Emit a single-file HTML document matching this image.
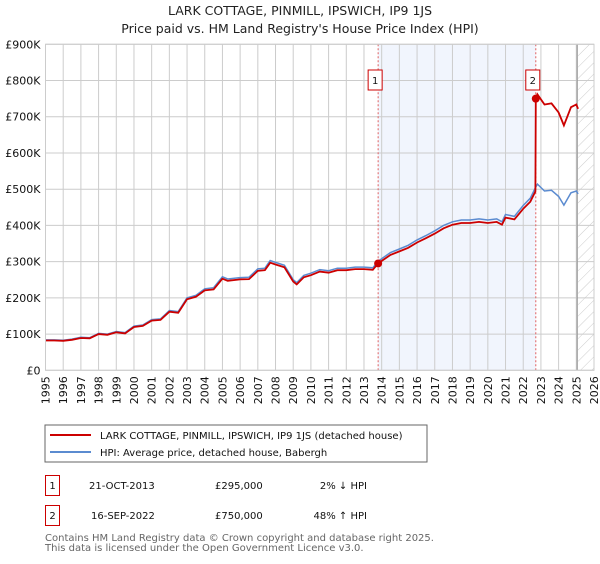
<!DOCTYPE html>
<html><head><meta charset="utf-8"><style>
body{margin:0;background:#fff;font-family:"DejaVu Sans","Liberation Sans",sans-serif;}
svg text{font-family:"DejaVu Sans","Liberation Sans",sans-serif;}
</style></head><body>
<svg id="c" width="600" height="560" viewBox="0 0 600 560" xmlns="http://www.w3.org/2000/svg">
<defs><pattern id="hatch" width="8" height="8" patternUnits="userSpaceOnUse" patternTransform="rotate(45)"><line x1="0" y1="0" x2="0" y2="8" stroke="#ccc" stroke-width="1"/></pattern></defs>
<text x="300" y="15" text-anchor="middle" font-size="12.5" fill="#222">LARK COTTAGE, PINMILL, IPSWICH, IP9 1JS</text>
<text x="300" y="33" text-anchor="middle" font-size="12.5" fill="#222">Price paid vs. HM Land Registry's House Price Index (HPI)</text>
<g id="plot"></g>
<rect x="45" y="425" width="382" height="37" fill="none" stroke="#666"/>
<line x1="50" y1="435" x2="91" y2="435" stroke="#cc0000" stroke-width="2"/>
<text x="100" y="439" font-size="10" fill="#111">LARK COTTAGE, PINMILL, IPSWICH, IP9 1JS (detached house)</text>
<line x1="50" y1="452" x2="91" y2="452" stroke="#5b8bd0" stroke-width="2"/>
<text x="100" y="456" font-size="10" fill="#111">HPI: Average price, detached house, Babergh</text>
<g font-size="10" fill="#111">
<rect x="45.5" y="475.5" width="14" height="20" fill="none" stroke="#cc0000"/>
<text x="52.5" y="489" text-anchor="middle">1</text>
<text x="89" y="489">21-OCT-2013</text>
<text x="215" y="489">£295,000</text>
<text x="367" y="489" text-anchor="end">2% ↓ HPI</text>
<rect x="45.5" y="505.5" width="14" height="20" fill="none" stroke="#cc0000"/>
<text x="52.5" y="519" text-anchor="middle">2</text>
<text x="91" y="519">16-SEP-2022</text>
<text x="215" y="519">£750,000</text>
<text x="367" y="519" text-anchor="end">48% ↑ HPI</text>
</g>
<text x="45" y="541" font-size="10" fill="#666">Contains HM Land Registry data © Crown copyright and database right 2025.</text>
<text x="45" y="551" font-size="10" fill="#666">This data is licensed under the Open Government Licence v3.0.</text>
</svg>
<script>
const hpiDates=[1995,1995.5,1996,1996.5,1997,1997.5,1998,1998.5,1999,1999.5,2000,2000.5,2001,2001.5,2002,2002.5,2003,2003.5,2004,2004.5,2005,2005.3,2006,2006.5,2007,2007.4,2007.7,2008,2008.5,2009,2009.2,2009.6,2010,2010.5,2011,2011.5,2012,2012.5,2013,2013.5,2013.8,2014.2,2014.5,2015,2015.5,2016,2016.5,2017,2017.5,2018,2018.5,2019,2019.5,2020,2020.5,2020.8,2021,2021.5,2022,2022.4,2022.7,2022.8,2023.2,2023.6,2024,2024.3,2024.7,2025,2025.1];
const hpiValues=[84,84,83,86,91,90,102,100,107,104,122,125,140,142,165,162,200,207,225,228,258,252,256,257,280,282,303,298,290,250,242,262,268,278,275,282,282,285,285,283,301,315,325,335,345,360,372,385,400,410,415,415,418,415,418,410,430,425,455,475,505,514,495,497,480,456,490,495,487];
const saleDates=[2013.8,2022.71];
const salePrices=[295,750];
const yTicks=[0,100,200,300,400,500,600,700,800,900];
const xTicks=[1995,1996,1997,1998,1999,2000,2001,2002,2003,2004,2005,2006,2007,2008,2009,2010,2011,2012,2013,2014,2015,2016,2017,2018,2019,2020,2021,2022,2023,2024,2025,2026];
const X0=45.5,X1=594,Y0=370.3,Y1=44.3;
const sx=d=>X0+(d-1995)/(2026-1995)*(X1-X0);
const sy=v=>Y0-v/900*(Y0-Y1);
const NS='http://www.w3.org/2000/svg';
const g=document.getElementById('plot');
function mk(t,a){const e=document.createElementNS(NS,t);for(const k in a)e.setAttribute(k,a[k]);g.appendChild(e);return e;}
function hpiAt(d){for(let i=1;i<hpiDates.length;i++){if(d<=hpiDates[i]){const t=(d-hpiDates[i-1])/(hpiDates[i]-hpiDates[i-1]);return hpiValues[i-1]+t*(hpiValues[i]-hpiValues[i-1]);}}return hpiValues[hpiValues.length-1];}
let r=mk('rect',{x:sx(saleDates[0]),y:Y1,width:sx(saleDates[1])-sx(saleDates[0]),height:Y0-Y1,fill:'#eef3fc',opacity:0.8});


r=mk('rect',{x:sx(2025.1),y:Y1,width:X1-sx(2025.1),height:Y0-Y1,fill:'url(#hatch)'});


yTicks.forEach(v=>{
 const l=mk('line',{x1:X0,x2:X1,y1:sy(v*1),y2:sy(v*1),stroke:'#ccc'});
 
 
 const t=mk('text',{x:X0-5,y:sy(v)+4,'text-anchor':'end','font-size':'11',fill:'#111'});
 t.textContent=v===0?'£0':'£'+v+'K';
 
 
});
xTicks.forEach(d=>{
 const l=mk('line',{x1:sx(d),x2:sx(d),y1:Y1,y2:Y0,stroke:'#ccc'});
 
 
 const t=mk('text',{x:0,y:0,'text-anchor':'end','font-size':'11',fill:'#111',transform:`translate(${sx(d)+4},${Y0+6}) rotate(-90)`});
 t.textContent=d;
 
 
});
let ax=mk('line',{x1:sx(2025.05),x2:sx(2025.05),y1:Y1,y2:Y0,stroke:'#999','stroke-width':1.2});


saleDates.forEach((d,i)=>{
 const l=mk('line',{x1:sx(d),x2:sx(d),y1:Y1,y2:Y0,stroke:'#e06060','stroke-dasharray':'2,2'});
 
 
 const b=mk('rect',{x:sx(d)-10,y:70,width:14,height:20,fill:'#fff',stroke:'#cc0000'});
 
 
 const t=mk('text',{x:sx(d)-3,y:84,'text-anchor':'middle','font-size':'10',fill:'#111'});
 t.textContent=i+1;
 
 
});
let hp=hpiDates.map((d,i)=>sx(d).toFixed(1)+','+sy(hpiValues[i]).toFixed(1)).join(' ');
let h=mk('polyline',{points:hp,fill:'none',stroke:'#5b8bd0','stroke-width':1.5});


const r1=salePrices[0]/hpiAt(saleDates[0]), r2=salePrices[1]/hpiAt(saleDates[1]);
let pts=[];
hpiDates.forEach((d,i)=>{
 if(d<saleDates[1]){pts.push([d,hpiValues[i]*r1]);}
});
pts.push([saleDates[1]-0.02,hpiAt(saleDates[1]-0.02)*r1]);
pts.push([saleDates[1],salePrices[1]]);
hpiDates.forEach((d,i)=>{if(d>saleDates[1])pts.push([d,hpiValues[i]*r2]);});
let p=mk('polyline',{points:pts.map(q=>sx(q[0]).toFixed(1)+','+sy(q[1]).toFixed(1)).join(' '),fill:'none',stroke:'#cc0000','stroke-width':1.8});


saleDates.forEach((d,i)=>{
 const c=mk('circle',{cx:sx(d),cy:sy(salePrices[i]),r:4,fill:'#cc0000'});
 
 
});
let bd=mk('rect',{x:X0,y:Y1,width:X1-X0,height:Y0-Y1,fill:'none',stroke:'#ccc'});


</script>
</body></html>
